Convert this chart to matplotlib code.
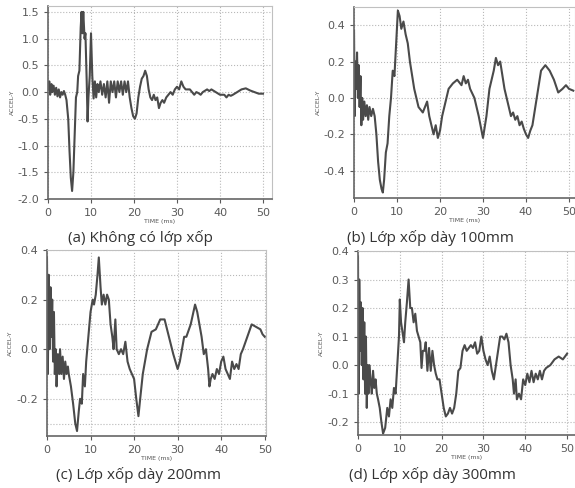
import matplotlib
matplotlib.use('Agg')
import matplotlib.pyplot as plt
from matplotlib.ticker import MultipleLocator

# (a) no foam layer
t_a = [0, 0.3, 0.5, 0.8, 1.0, 1.3, 1.6, 1.9, 2.2, 2.5, 2.8, 3.1, 3.4, 3.7, 4.0, 4.3, 4.7, 5.0, 5.3,
       5.6, 5.9, 6.2, 6.5, 6.8, 7.0, 7.3, 7.6, 7.8, 8.0, 8.2, 8.5, 8.7, 9.0, 9.2, 9.4, 9.7, 10.0,
       10.3, 10.6, 10.9, 11.2, 11.5, 11.8, 12.2, 12.6, 13.0, 13.4, 13.8, 14.2, 14.6, 15.0, 15.4,
       15.8, 16.2, 16.6, 17.0, 17.4, 17.8, 18.2, 18.6, 19.0, 19.4, 19.8, 20.2, 20.6, 21.0, 21.4,
       21.8, 22.2, 22.6, 23.0, 23.4, 23.8, 24.2, 24.6, 25.0, 25.4, 25.8, 26.2, 26.6, 27.0, 27.5,
       28.0, 28.5, 29.0, 29.5, 30.0, 30.5, 31.0, 31.5, 32.0, 33.0, 33.5, 34.0, 34.5, 35.0, 35.5,
       36.0, 37.0, 37.5, 38.0, 39.0, 40.0, 41.0, 41.5, 42.0, 42.5, 43.0, 44.0, 45.0, 46.0, 47.0,
       48.0, 49.0, 50.0]
v_a = [0.05, 0.2, -0.05, 0.15, 0.0, 0.12, -0.05, 0.08, -0.08, 0.05, -0.1, 0.0, -0.05, 0.02, -0.05,
       -0.15, -0.5, -1.1, -1.6, -1.85, -1.5, -0.8, -0.1, 0.0, 0.3, 0.4, 1.2, 1.5, 1.1, 1.5, 1.0, 1.1,
       0.2, -0.55, -0.1, 0.3, 1.1, 0.3, -0.12, 0.2, -0.1, 0.15, 0.0, 0.2, -0.05, 0.15, -0.1, 0.2,
       -0.2, 0.2, 0.0, 0.2, -0.1, 0.2, 0.0, 0.2, -0.05, 0.2, 0.0, 0.2, -0.1, -0.3, -0.45, -0.5,
       -0.4, -0.1, 0.1, 0.25, 0.3, 0.4, 0.3, 0.05, -0.1, -0.15, -0.05, -0.15, -0.1, -0.3, -0.2,
       -0.15, -0.2, -0.1, -0.05, 0.0, -0.05, 0.05, 0.1, 0.05, 0.2, 0.1, 0.05, 0.05, 0.0, -0.05,
       0.0, -0.02, -0.05, 0.0, 0.05, 0.02, 0.05, 0.0, -0.05, -0.05, -0.1, -0.05, -0.07, -0.05,
       0.0, 0.05, 0.07, 0.03, 0.0, -0.03, -0.03]

# (b) foam 100mm
t_b = [0, 0.15, 0.3, 0.5, 0.7, 0.9, 1.1, 1.3, 1.5, 1.7, 1.9, 2.1, 2.4, 2.7, 3.0, 3.3, 3.6, 4.0,
       4.4, 4.8, 5.2, 5.6, 6.0, 6.4, 6.7, 7.0, 7.4, 7.8, 8.2, 8.6, 9.0, 9.4, 9.8, 10.2, 10.6, 11.0,
       11.5, 12.0, 12.5, 13.0, 14.0, 15.0, 16.0, 16.5, 17.0, 17.5, 18.0, 18.5, 19.0, 19.5, 20.0,
       20.5, 21.0, 22.0, 23.0, 24.0, 25.0, 25.5, 26.0, 26.5, 27.0, 28.0, 29.0, 30.0, 30.8, 31.5,
       32.0, 32.5, 33.0, 33.5, 34.0, 35.0, 35.5, 36.0, 36.5, 37.0, 37.5, 38.0, 38.5, 39.0, 39.5,
       40.0, 40.5, 41.0, 41.5, 42.5, 43.5, 44.5, 45.5, 46.5, 47.5, 48.5, 49.3, 50.0, 51.0]
v_b = [0.37, -0.1, 0.2, 0.05, 0.25, 0.0, 0.18, -0.05, 0.12, -0.15, 0.0, -0.12, -0.02, -0.1,
       -0.04, -0.12, -0.05, -0.1, -0.06, -0.1, -0.2, -0.35, -0.45, -0.5, -0.52, -0.45, -0.3, -0.25,
       -0.1, 0.0, 0.15, 0.12, 0.3, 0.48, 0.45, 0.38, 0.42, 0.35, 0.3, 0.2, 0.05, -0.05, -0.08,
       -0.05, -0.02, -0.1, -0.15, -0.2, -0.15, -0.22, -0.18, -0.1, -0.05, 0.05, 0.08, 0.1, 0.07,
       0.12, 0.08, 0.1, 0.05, 0.0, -0.1, -0.22, -0.1, 0.05, 0.1, 0.15, 0.22, 0.18, 0.2, 0.05,
       0.0, -0.05, -0.1, -0.08, -0.12, -0.1, -0.15, -0.13, -0.17, -0.2, -0.22, -0.18, -0.15, 0.0,
       0.15, 0.18, 0.15, 0.1, 0.03, 0.05, 0.07, 0.05, 0.04]

# (c) foam 200mm
t_c = [0, 0.2, 0.4, 0.6, 0.8, 1.0, 1.2, 1.4, 1.6, 1.8, 2.0, 2.2, 2.5, 2.8, 3.0, 3.3, 3.6, 3.9,
       4.2, 4.5, 4.8, 5.0, 5.5, 6.0, 6.5, 6.9, 7.3, 7.6, 8.0, 8.3, 8.7, 9.0, 9.5, 10.0, 10.5, 10.8,
       11.2, 11.6, 11.9, 12.3, 12.6, 13.0, 13.4, 13.8, 14.2, 14.6, 15.0, 15.3, 15.7, 16.0, 16.5,
       17.0, 17.5, 18.0, 18.5, 19.0, 19.5, 20.0, 20.5, 21.0, 21.4, 22.0, 23.0, 24.0, 25.0, 26.0,
       27.0, 28.0, 29.0, 29.5, 30.0, 30.5, 31.0, 31.5, 32.0, 33.0, 34.0, 34.5, 35.0, 35.5, 36.0,
       36.5, 37.0, 37.3, 37.6, 38.0, 38.5, 39.0, 39.5, 40.0, 40.5, 41.0, 41.5, 42.0, 42.5, 43.0,
       43.5, 44.0, 44.5, 45.0, 46.0, 47.0, 48.0, 49.0, 49.5, 50.0]
v_c = [0.37, -0.1, 0.3, 0.0, 0.25, 0.05, 0.2, -0.05, 0.15, -0.1, 0.0, -0.15, -0.02, -0.1, 0.0,
       -0.1, -0.03, -0.12, -0.05, -0.1, -0.07, -0.1, -0.15, -0.22, -0.3, -0.33, -0.25, -0.2,
       -0.22, -0.1, -0.15, -0.05, 0.05, 0.15, 0.2, 0.18, 0.22, 0.3, 0.37, 0.25, 0.18, 0.22, 0.18,
       0.22, 0.2, 0.1, 0.05, 0.0, 0.12, 0.0, -0.02, 0.0, -0.02, 0.03, -0.05, -0.08, -0.1, -0.12,
       -0.2, -0.27, -0.2, -0.1, 0.0, 0.07, 0.08, 0.12, 0.12, 0.05, -0.02, -0.05, -0.08, -0.05, 0.0,
       0.05, 0.05, 0.1, 0.18, 0.15, 0.1, 0.05, -0.02, 0.0, -0.08, -0.15, -0.12, -0.1, -0.12, -0.08,
       -0.1, -0.05, -0.03, -0.08, -0.1, -0.12, -0.05, -0.08, -0.06, -0.08, -0.02, 0.0, 0.05, 0.1,
       0.09, 0.08, 0.06, 0.05]

# (d) foam 300mm
t_d = [0, 0.15, 0.3, 0.5, 0.7, 0.9, 1.1, 1.3, 1.5, 1.7, 1.9, 2.1, 2.3, 2.5, 2.7, 3.0, 3.3, 3.6,
       3.9, 4.2, 4.5, 4.8, 5.2, 5.6, 6.0, 6.5, 7.0, 7.4, 7.8, 8.2, 8.6, 9.0, 9.4, 9.8, 10.0, 10.3,
       10.6, 11.0, 11.3, 11.7, 12.1, 12.5, 12.9, 13.3, 13.7, 14.1, 14.5, 14.9, 15.2, 15.5, 15.9,
       16.2, 16.6, 17.0, 17.4, 17.8, 18.2, 18.6, 19.0, 19.5, 20.0, 20.5, 21.0, 21.5, 22.0, 22.5,
       23.0, 23.5, 24.0, 24.5, 25.0, 25.5, 26.0, 26.5, 27.0, 27.5, 28.0, 28.5, 29.0, 29.5, 30.0,
       30.5, 31.0, 31.5, 32.0, 32.5, 33.0, 33.5, 34.0, 34.5, 35.0, 35.5, 36.0, 36.5, 37.0, 37.3,
       37.7, 38.0, 38.5, 39.0, 39.5, 40.0, 40.5, 41.0, 41.5, 42.0, 42.5, 43.0, 43.5, 44.0, 44.5,
       45.0, 46.0, 47.0, 48.0, 49.0, 50.0]
v_d = [0.38, -0.1, 0.3, 0.05, 0.22, 0.0, 0.2, -0.05, 0.15, -0.1, 0.1, -0.15, 0.0, -0.1, 0.0,
       -0.05, -0.1, -0.02, -0.08, -0.05, -0.1, -0.12, -0.15, -0.2, -0.24, -0.22, -0.15, -0.18,
       -0.12, -0.15, -0.08, -0.1, 0.0, 0.1, 0.23, 0.15, 0.12, 0.08, 0.15, 0.22, 0.3, 0.2, 0.2,
       0.15, 0.18, 0.12, 0.1, 0.08, -0.01, 0.05, 0.05, 0.08, -0.02, 0.06, -0.02, 0.05, 0.0, -0.03,
       -0.05, -0.05, -0.1, -0.15, -0.18, -0.17, -0.15, -0.17, -0.15, -0.1, -0.02, -0.01, 0.05,
       0.07, 0.05, 0.06, 0.07, 0.06, 0.08, 0.04, 0.05, 0.1, 0.05, 0.02, 0.0, 0.03, -0.02, -0.05,
       0.0, 0.05, 0.1, 0.1, 0.09, 0.11, 0.08, 0.0, -0.05, -0.1, -0.05, -0.12, -0.1, -0.12, -0.05,
       -0.07, -0.03, -0.06, -0.02, -0.06, -0.03, -0.05, -0.02, -0.05, -0.02, -0.01, 0.0, 0.02,
       0.03, 0.02, 0.04]

captions = ['(a) Không có lớp xốp', '(b) Lớp xốp dày 100mm',
            '(c) Lớp xốp dày 200mm', '(d) Lớp xốp dày 300mm']

fig = plt.figure(figsize=(5.75, 4.88), dpi=100)

panels = [
    # rect, t, v, xlim, ylim, label step, grid step
    ([0.0835, 0.5922, 0.3896, 0.3955], t_a, v_a, 52.1, (-2.0, 1.61), 0.5, 0.5),
    ([0.6157, 0.5943, 0.3843, 0.3914], t_b, v_b, 51.4, (-0.55, 0.5), 0.2, 0.2),
    ([0.0817, 0.1066, 0.3810, 0.3811], t_c, v_c, 50.3, (-0.35, 0.4), 0.2, 0.1),
    ([0.6226, 0.1086, 0.3774, 0.3771], t_d, v_d, 51.9, (-0.245, 0.4), 0.1, 0.1),
]

cap_pos = [(0.245, 0.513), (0.748, 0.513), (0.24, 0.026), (0.752, 0.026)]

for i, (rect, t, v, xr, yl, step, gstep) in enumerate(panels):
    ax = fig.add_axes(rect)
    ax.plot(t, v, color='#4a4a4a', lw=1.5)
    ax.set_xlim(0, xr)
    ax.set_ylim(*yl)
    ax.xaxis.set_major_locator(MultipleLocator(10))
    ax.yaxis.set_major_locator(MultipleLocator(step))
    ax.yaxis.set_minor_locator(MultipleLocator(gstep))
    ax.yaxis.set_major_formatter(matplotlib.ticker.FormatStrFormatter('%.1f'))
    ax.grid(True, which='major', color='#b8b8b8', ls=':', lw=0.8)
    ax.grid(True, which='minor', axis='y', color='#b8b8b8', ls=':', lw=0.8)
    ax.tick_params(which='minor', length=0)
    ax.tick_params(which='major', labelsize=8, colors='#5a5a5a', length=3, width=0.8)
    for s in ['top', 'right']:
        ax.spines[s].set_color('#c0c0c0')
        ax.spines[s].set_linewidth(0.8)
    for s in ['left', 'bottom']:
        ax.spines[s].set_color('#666666')
        ax.spines[s].set_linewidth(1.2)
    ax.set_xlabel('TIME (ms)', fontsize=4.5, color='#555555', labelpad=1)
    ax.set_ylabel('ACCEL-Y', fontsize=4.5, color='#555555', labelpad=2)
    fig.text(cap_pos[i][0], cap_pos[i][1], captions[i], ha='center', va='center',
             fontsize=11, family=['Open Sans', 'DejaVu Sans'], color='#333333')

fig.savefig('out.png', dpi=100)
